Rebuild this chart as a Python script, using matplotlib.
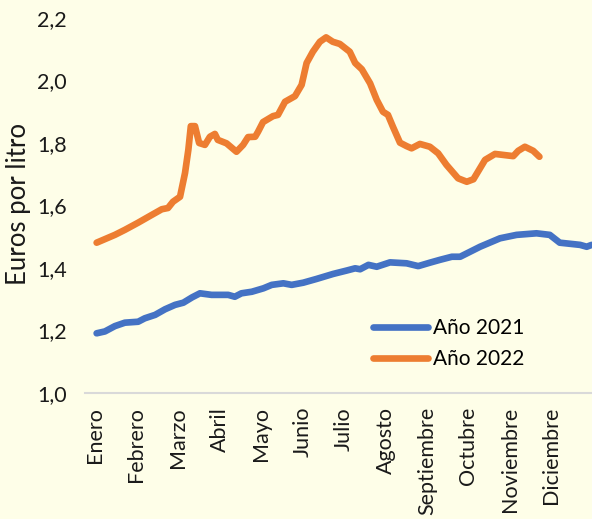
import matplotlib
matplotlib.use("Agg")
import matplotlib.pyplot as plt

plt.rcParams['font.family'] = ['Lato', 'DejaVu Sans']

meses = ["Enero", "Febrero", "Marzo", "Abril", "Mayo", "Junio", "Julio",
         "Agosto", "Septiembre", "Octubre", "Noviembre", "Diciembre"]

# posicion en meses (0 = 1 de enero)
mes_2021 = [0.04, 0.24, 0.48, 0.72, 1.04, 1.20, 1.45, 1.69, 1.93, 2.13, 2.34, 2.53,
            2.81, 3.21, 3.37, 3.53, 3.78, 4.06, 4.26, 4.54, 4.74, 5.02, 5.34, 5.74,
            6.07, 6.27, 6.39, 6.59, 6.79, 7.11, 7.51, 7.79, 8.07, 8.31, 8.60, 8.80,
            9.28, 9.76, 10.16, 10.64, 10.96, 11.20, 11.69, 11.85, 11.97]
precio_2021 = [1.191, 1.197, 1.214, 1.225, 1.228, 1.239, 1.250, 1.268, 1.282, 1.289,
               1.306, 1.319, 1.314, 1.314, 1.308, 1.319, 1.324, 1.335, 1.346, 1.351,
               1.346, 1.353, 1.365, 1.381, 1.392, 1.399, 1.396, 1.410, 1.404, 1.418,
               1.415, 1.406, 1.417, 1.426, 1.436, 1.436, 1.468, 1.495, 1.506, 1.511,
               1.506, 1.481, 1.474, 1.468, 1.474]

mes_2022 = [0.04, 0.48, 0.72, 1.04, 1.37, 1.61, 1.76, 1.88, 2.05, 2.17, 2.25, 2.31,
            2.41, 2.51, 2.65, 2.77, 2.89, 2.96, 3.17, 3.41, 3.57, 3.69, 3.86, 3.93,
            4.05, 4.29, 4.41, 4.58, 4.82, 4.98, 5.10, 5.25, 5.42, 5.57, 5.73, 5.90,
            6.14, 6.27, 6.43, 6.63, 6.79, 6.94, 7.06, 7.18, 7.35, 7.51, 7.63, 7.83,
            8.07, 8.27, 8.47, 8.75, 8.96, 9.12, 9.40, 9.64, 10.08, 10.20, 10.36,
            10.56, 10.71]
precio_2022 = [1.481, 1.506, 1.522, 1.545, 1.570, 1.588, 1.592, 1.612, 1.628, 1.704,
               1.778, 1.854, 1.854, 1.800, 1.794, 1.820, 1.829, 1.810, 1.799, 1.772,
               1.794, 1.819, 1.820, 1.836, 1.867, 1.886, 1.890, 1.932, 1.950, 1.986,
               2.056, 2.092, 2.124, 2.138, 2.124, 2.117, 2.092, 2.056, 2.036, 1.991,
               1.938, 1.900, 1.890, 1.852, 1.801, 1.790, 1.783, 1.797, 1.788, 1.767,
               1.730, 1.687, 1.676, 1.684, 1.746, 1.765, 1.758, 1.775, 1.788, 1.775,
               1.756]

y_ticks = [1.0, 1.2, 1.4, 1.6, 1.8, 2.0, 2.2]
y_labels = ["1,0", "1,2", "1,4", "1,6", "1,8", "2,0", "2,2"]

fondo = "#FEFEE8"
fs = 15
negro = "#1A1A1A"

fig = plt.figure(figsize=(5.92, 5.19), dpi=100, facecolor=fondo)
ax = fig.add_axes([0.1436, 0.2428, 0.858, 0.7225])
ax.set_facecolor(fondo)

ax.plot(mes_2021, precio_2021, color="#4472C4", lw=4.8, label="Año 2021",
        solid_capstyle="round", solid_joinstyle="round")
ax.plot(mes_2022, precio_2022, color="#ED7D31", lw=4.8, label="Año 2022",
        solid_capstyle="round", solid_joinstyle="round")

ax.set_xlim(-0.24, 12)
ax.set_ylim(1.0, 2.2)
ax.set_yticks(y_ticks)
ax.set_yticklabels(y_labels, fontsize=15.5, color=negro)
ax.set_xticks(range(len(meses)))
ax.set_xticklabels(meses, rotation=90, fontsize=15.5, color=negro,
                   va="top", ha="center")
ax.tick_params(length=0)
ax.tick_params(axis="y", pad=13)
ax.tick_params(axis="x", pad=10)

for s in ["top", "right", "left"]:
    ax.spines[s].set_visible(False)
ax.spines["bottom"].set_color("#D9D9D9")
ax.spines["bottom"].set_linewidth(1.5)

fig.text(19 / 592, 0.607, "Euros por litro", rotation=90, fontsize=18.5,
         color=negro, ha="center", va="center")

ax.legend(loc="upper left", bbox_to_anchor=(373 / 592, (519 - 318) / 519),
          bbox_transform=fig.transFigure, frameon=False, fontsize=fs,
          handlelength=2.65, handletextpad=0.25, labelspacing=0.55,
          borderpad=0, borderaxespad=0)

fig.savefig("out.png", dpi=100, facecolor=fondo)
